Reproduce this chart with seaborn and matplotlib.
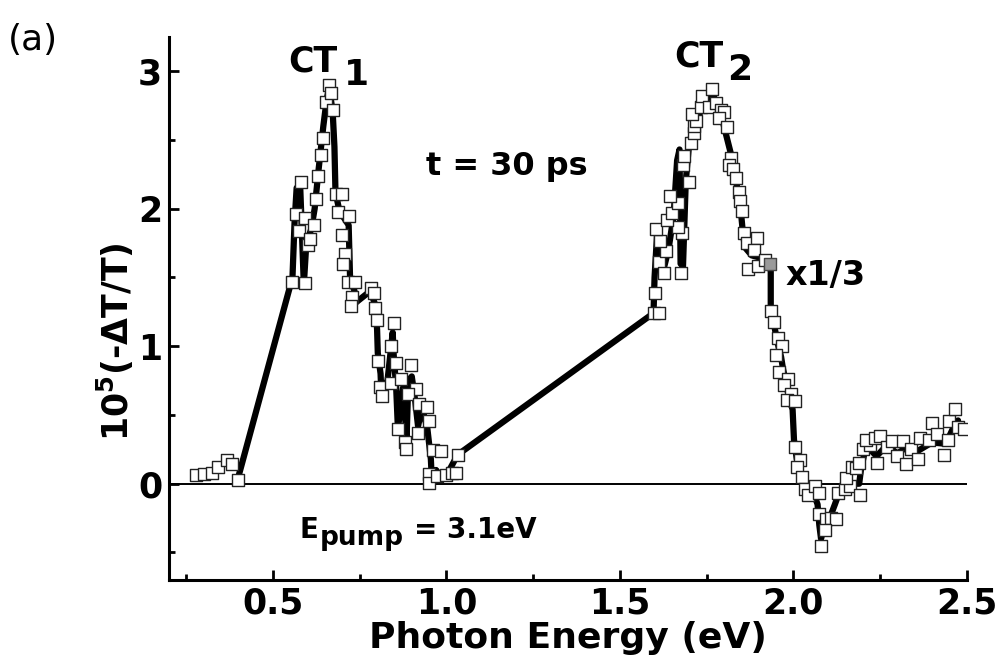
import numpy as np
import pandas as pd
import matplotlib
matplotlib.use('Agg')
import matplotlib.pyplot as plt
import seaborn as sns
from matplotlib.ticker import FixedLocator

# ---- data ----
sq_x = [0.277, 0.302, 0.325, 0.340, 0.368, 0.383, 0.400,
        0.556, 0.592, 0.565, 0.576, 0.582, 0.593, 0.600, 0.607, 0.617, 0.623, 0.631, 0.638,
        0.645, 0.652, 0.660, 0.667, 0.674, 0.681, 0.700, 0.687, 0.720, 0.700, 0.707, 0.703,
        0.715, 0.737, 0.729, 0.724, 0.782, 0.792, 0.794, 0.800, 0.848, 0.841, 0.804, 0.854,
        0.897, 0.809, 0.815, 0.839, 0.868, 0.912, 0.890, 0.922, 0.944, 0.951, 0.859, 0.917,
        0.881, 0.883, 0.960, 0.984, 1.032, 0.951, 0.951, 0.973, 0.998, 1.017, 1.027,
        1.597, 1.613, 1.600, 1.613, 1.628, 1.676, 1.634, 1.617, 1.603, 1.678, 1.669, 1.637,
        1.650, 1.669, 1.645, 1.698, 1.683, 1.685, 1.705, 1.715, 1.715, 1.720, 1.709, 1.733,
        1.736, 1.766, 1.757, 1.776, 1.791, 1.800, 1.785, 1.809, 1.820, 1.815, 1.825, 1.834,
        1.843, 1.845, 1.853, 1.858, 1.867, 1.896, 1.887, 1.870, 1.899, 1.918,
        1.936, 1.943, 1.956, 1.967, 1.950, 1.960, 1.986, 1.974, 1.994, 1.981, 2.005,
        2.005, 2.020, 2.012, 2.025, 2.035, 2.043, 2.064, 2.074, 2.074, 2.093, 2.108, 2.122,
        2.090, 2.080, 2.130, 2.150, 2.163, 2.192, 2.152, 2.170, 2.180, 2.190, 2.200, 2.220,
        2.210, 2.235, 2.250, 2.240, 2.270, 2.285, 2.300, 2.315, 2.325, 2.340, 2.360, 2.366,
        2.390, 2.400, 2.415, 2.435, 2.445, 2.450, 2.465, 2.475, 2.492]
sq_y = [0.060, 0.068, 0.075, 0.120, 0.170, 0.140, 0.030,
        1.470, 1.460, 1.960, 1.840, 2.190, 1.930, 1.735, 1.780, 1.880, 2.070, 2.240, 2.390,
        2.510, 2.775, 2.900, 2.840, 2.720, 2.110, 2.110, 1.975, 1.950, 1.810, 1.670, 1.595,
        1.470, 1.470, 1.360, 1.290, 1.420, 1.390, 1.275, 1.190, 1.170, 1.000, 0.890, 0.880,
        0.860, 0.705, 0.640, 0.730, 0.760, 0.690, 0.650, 0.580, 0.560, 0.455, 0.395, 0.366,
        0.305, 0.250, 0.245, 0.237, 0.210, 0.070, 0.007, 0.055, 0.060, 0.080, 0.080,
        1.240, 1.240, 1.390, 1.610, 1.535, 1.535, 1.690, 1.765, 1.850, 1.825, 1.870, 1.920,
        1.970, 2.040, 2.090, 2.190, 2.320, 2.380, 2.480, 2.550, 2.600, 2.640, 2.690, 2.740,
        2.820, 2.870, 2.740, 2.770, 2.720, 2.700, 2.660, 2.590, 2.370, 2.320, 2.290, 2.225,
        2.120, 2.055, 1.980, 1.825, 1.750, 1.790, 1.700, 1.560, 1.580, 1.630,
        1.255, 1.175, 1.060, 1.000, 0.935, 0.810, 0.760, 0.720, 0.650, 0.610, 0.600,
        0.270, 0.170, 0.120, 0.050, -0.040, -0.080, -0.020, -0.065, -0.220, -0.260, -0.250, -0.260,
        -0.340, -0.450, -0.070, -0.040, -0.020, -0.080, 0.045, 0.120, 0.115, 0.150, 0.250, 0.285,
        0.320, 0.335, 0.345, 0.150, 0.270, 0.310, 0.200, 0.310, 0.140, 0.250, 0.180, 0.335,
        0.320, 0.440, 0.360, 0.210, 0.320, 0.455, 0.540, 0.410, 0.400]

hl_x = [1.933]
hl_y = [1.595]

line_x = [0.400, 0.556, 0.562, 0.568, 0.578, 0.588, 0.590, 0.596, 0.610, 0.620, 0.632, 0.645,
          0.655, 0.662, 0.672, 0.677, 0.680, 0.690, 0.700, 0.718, 0.722, 0.735, 0.730, 0.780,
          0.795, 0.800, 0.802, 0.810, 0.812, 0.830, 0.845, 0.848, 0.855, 0.860, 0.875, 0.885,
          0.890, 0.900, 0.910, 0.918, 0.930, 0.945, 0.955, 0.958, 0.970, 0.985, 1.000, 1.032,
          1.597, 1.600, 1.607, 1.615, 1.625, 1.640, 1.655, 1.665, 1.672, 1.675, 1.682, 1.690,
          1.700, 1.715, 1.740, 1.765, 1.790, 1.810, 1.820, 1.835, 1.845, 1.850, 1.853, 1.860,
          1.880, 1.910, 1.935, 1.935, 1.945, 1.955, 1.965, 1.970, 1.980, 1.990, 1.998, 2.002,
          2.010, 2.020, 2.040, 2.060, 2.070, 2.075, 2.080, 2.090, 2.105, 2.120, 2.130, 2.160,
          2.190, 2.195, 2.210, 2.240, 2.270, 2.300, 2.330, 2.360, 2.400, 2.440, 2.460, 2.475]
line_y = [0.050, 1.500, 1.900, 2.150, 2.180, 1.500, 1.500, 1.750, 1.850, 2.000, 2.300, 2.600,
          2.800, 2.880, 2.700, 2.450, 2.120, 2.000, 1.950, 1.880, 1.500, 1.400, 1.300, 1.400,
          1.300, 1.120, 0.950, 0.800, 0.680, 0.750, 1.100, 0.930, 0.700, 0.400, 0.700, 0.320,
          0.750, 0.780, 0.600, 0.420, 0.550, 0.400, 0.180, 0.020, 0.100, 0.040, 0.060, 0.210,
          1.240, 1.500, 1.800, 1.650, 1.550, 1.700, 1.950, 2.350, 2.430, 1.600, 1.580, 2.200,
          2.480, 2.600, 2.750, 2.850, 2.700, 2.500, 2.400, 2.200, 2.050, 1.950, 1.870, 1.720,
          1.660, 1.640, 1.550, 1.300, 1.150, 1.020, 0.920, 0.840, 0.720, 0.600, 0.540, 0.320,
          0.180, 0.080, -0.020, -0.080, -0.150, -0.300, -0.400, -0.300, -0.250, -0.150, -0.080, 0.000,
          0.000, 0.100, 0.280, 0.200, 0.280, 0.220, 0.270, 0.240, 0.300, 0.290, 0.400, 0.460]

x_major = [0.5, 1.0, 1.5, 2.0, 2.5]
x_labels = ['0.5', '1.0', '1.5', '2.0', '2.5']
x_minor = [0.25, 0.75, 1.25, 1.75, 2.25]
y_major = [0, 1, 2, 3]
y_labels = ['0', '1', '2', '3']
y_minor = [-0.5, 0.5, 1.5, 2.5]

# ---- figure ----
sns.set_theme(style='ticks')
plt.rcParams['font.family'] = ['DejaVu Sans']
plt.rcParams['mathtext.fontset'] = 'dejavusans'
plt.rcParams['text.color'] = 'black'
plt.rcParams['axes.labelcolor'] = 'black'
plt.rcParams['xtick.color'] = 'black'
plt.rcParams['ytick.color'] = 'black'

W, H = 999, 662
fig = plt.figure(figsize=(W / 100, H / 100), dpi=100)
fig.patch.set_facecolor('white')
L, R, T, B = 169, 966.7, 36.7, 580
ax = fig.add_axes([L / W, 1 - B / H, (R - L) / W, (B - T) / H])
ax.set_facecolor('white')


def px(x, y):
    return x / W, 1 - y / H


ax.axhline(0, color='black', lw=1.4, zorder=1)

line_df = pd.DataFrame({'x': line_x, 'y': line_y})
sns.lineplot(data=line_df, x='x', y='y', sort=False, estimator=None, color='black',
             lw=4.5, solid_capstyle='round', solid_joinstyle='round', ax=ax, zorder=2)

sq_df = pd.DataFrame({'x': sq_x, 'y': sq_y})
sns.scatterplot(data=sq_df, x='x', y='y', marker='s', s=85, color='white',
                edgecolor='#222222', linewidth=1.0, ax=ax, zorder=3)
hl_df = pd.DataFrame({'x': hl_x, 'y': hl_y})
sns.scatterplot(data=hl_df, x='x', y='y', marker='s', s=85, color='#9a9a9a',
                edgecolor='#444444', linewidth=1.0, ax=ax, zorder=3)

ax.set_xlim(0.2, 2.5)
ax.set_ylim(-0.7, 3.25)

for s in ['top', 'right']:
    ax.spines[s].set_visible(False)
for s in ['left', 'bottom']:
    ax.spines[s].set_linewidth(2.2)
    ax.spines[s].set_color('black')

ax.xaxis.set_major_locator(FixedLocator(x_major))
ax.xaxis.set_minor_locator(FixedLocator(x_minor))
ax.yaxis.set_major_locator(FixedLocator(y_major))
ax.yaxis.set_minor_locator(FixedLocator(y_minor))
ax.set_xticklabels(x_labels, fontweight='bold', fontsize=25, color='black')
ax.set_yticklabels(y_labels, fontweight='bold', fontsize=25, color='black')
ax.tick_params(axis='both', which='major', direction='in', length=7, width=2,
               color='black', labelcolor='black')
ax.tick_params(axis='both', which='minor', direction='in', length=4, width=2, color='black')
ax.tick_params(axis='x', which='major', pad=5)
ax.tick_params(axis='y', which='major', pad=5)

ax.set_xlabel('Photon Energy (eV)', fontsize=26, fontweight='bold', va='baseline', color='black')
ax.xaxis.set_label_coords(0.5, (B - 648) / (B - T))
ax.set_ylabel(r'10$^{\mathbf{5}}$(-ΔT/T)', fontsize=25, fontweight='bold', color='black')
ax.yaxis.set_label_coords((136 - L) / (R - L), (B - 341.5) / (B - T))

# annotations
kw = dict(color='black', ha='left', va='baseline')
fig.text(*px(8, 50), '(a)', fontsize=26, **kw)
fig.text(*px(288, 72), 'CT', fontsize=25, fontweight='bold', **kw)
fig.text(*px(344, 85), '1', fontsize=26, fontweight='bold', **kw)
fig.text(*px(674, 66.7), 'CT', fontsize=25, fontweight='bold', **kw)
fig.text(*px(727, 80), '2', fontsize=26, fontweight='bold', **kw)
fig.text(*px(426, 175), 't = 30 ps', fontsize=23, fontweight='bold', **kw)
fig.text(*px(786, 285), 'x1/3', fontsize=24, fontweight='bold', **kw)
fig.text(*px(299, 538.5), 'E', fontsize=20, fontweight='bold', **kw)
fig.text(*px(320, 545), 'pump', fontsize=19, fontweight='bold', **kw)
fig.text(*px(414, 538.5), '= 3.1eV', fontsize=20, fontweight='bold', **kw)

fig.savefig('out.png', dpi=100, facecolor='white')
